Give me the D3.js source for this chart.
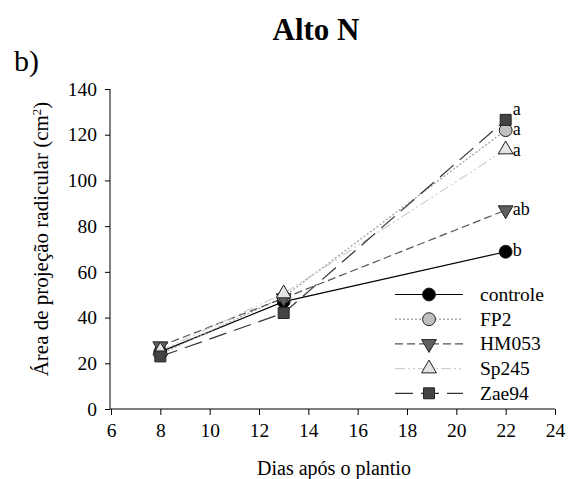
<!DOCTYPE html>
<html><head><meta charset="utf-8">
<script src="https://cdn.jsdelivr.net/npm/d3@7"></script>
<style>body{margin:0;background:#fff}svg{display:block}svg text{font-family:"Liberation Serif","Times New Roman",serif !important;fill:#000}</style>
</head><body><svg id="c" width="575" height="479"></svg>
<script>
const days = [8, 13, 22];
const seriesNames = ["controle", "FP2", "HM053", "Sp245", "Zae94"];
const controle = [25, 47, 68.8];
const FP2 = [24, 49, 122];
const HM053 = [27.5, 48.5, 87];
const Sp245 = [25.5, 50.5, 113.5];
const Zae94 = [23, 42, 126.5];
const letters = ["b", "a", "ab", "a", "a"];
const xTicks = [6, 8, 10, 12, 14, 16, 18, 20, 22, 24];
const yTicks = [0, 20, 40, 60, 80, 100, 120, 140];

const values = [controle, FP2, HM053, Sp245, Zae94];
const styles = [
  {stroke:"#000", dash:null, sym:d3.symbolCircle, fill:"#000", size:130, rot:0},
  {stroke:"#9a9a9a", dash:"2,2", sym:d3.symbolCircle, fill:"#c0c0c0", size:130, rot:0},
  {stroke:"#555", dash:"8,4", sym:d3.symbolTriangle, fill:"#606060", size:95, rot:180},
  {stroke:"#cfcfcf", dash:"10,3,2,3,2,3", sym:d3.symbolTriangle, fill:"#e4e4e4", size:95, rot:0},
  {stroke:"#333", dash:"18,8", sym:d3.symbolSquare, fill:"#444", size:120, rot:0}
];
const SERIF = '"Liberation Serif","Times New Roman",serif';

const svg = d3.select("#c");
const x = d3.scaleLinear().domain([6, 24]).range([111, 555]);
const y = d3.scaleLinear().domain([0, 140]).range([409, 89]);

const fixAxis = g => {
  g.attr("font-family", null).attr("font-size", null);
  g.selectAll("text").style("font-size","19.5px").style("font-family", SERIF);
  g.selectAll("line").attr("stroke","#000");
};
svg.append("g").attr("transform","translate(0,409)")
  .call(d3.axisBottom(x).tickValues(xTicks).tickSize(6).tickPadding(8).tickFormat(d3.format("d")))
  .call(fixAxis)
  .call(g=>g.select(".domain").attr("stroke","#000").attr("d","M110,0H555"));
svg.append("g").attr("transform","translate(110,0)")
  .call(d3.axisLeft(y).tickValues(yTicks).tickSize(5).tickPadding(8))
  .call(fixAxis)
  .call(g=>g.select(".domain").attr("stroke","#000").attr("d","M0,89V409"));

const line = d3.line().x((d,i)=>x(days[i])).y(d=>y(d));
values.forEach((v,k)=>{
  const s = styles[k];
  svg.append("path").attr("d", line(v)).attr("fill","none").attr("stroke", s.stroke)
    .attr("stroke-width",1.2).attr("stroke-dasharray", s.dash);
});
const drawSym = (cx, cy, s) => svg.append("path")
  .attr("d", d3.symbol().type(s.sym).size(s.size)())
  .attr("transform", `translate(${cx},${cy}) rotate(${s.rot})`)
  .attr("fill", s.fill).attr("stroke","#222").attr("stroke-width",1);
values.forEach((v,k)=>{ v.forEach((d,i)=>drawSym(x(days[i]), y(d), styles[k])); });

const T = (xx, yy, str, size) => svg.append("text").attr("x", xx).attr("y", yy)
  .style("font-family", SERIF).style("font-size", size + "px").text(str);

// significance letters
const letterDy = [4, 5, 5, 6, -5];
values.forEach((v,k)=>{ T(x(22)+7, y(v[2]) + letterDy[k], letters[k], 18); });

// legend
const lx0 = 395, lx1 = 463, lm = 429, ly0 = 294.5, ldy = 24.7;
seriesNames.forEach((n,k)=>{
  const s = styles[k], yy = ly0 + k*ldy;
  svg.append("line").attr("x1",lx0).attr("x2",lx1).attr("y1",yy).attr("y2",yy)
    .attr("stroke",s.stroke).attr("stroke-width",1.2).attr("stroke-dasharray",s.dash);
  drawSym(lm, yy, s);
  T(480, yy + 6.5, n, 19.5);
});

T(316, 40, "Alto N", 31).attr("text-anchor","middle").style("font-weight","bold");
T(14, 71, "b)", 30);
T(334, 475, "Dias após o plantio", 20).attr("text-anchor","middle");
const yl = svg.append("text").attr("transform","translate(48,239) rotate(-90)").attr("text-anchor","middle")
  .style("font-family", SERIF).style("font-size","21px");
yl.append("tspan").text("Área de projeção radicular (cm");
yl.append("tspan").attr("dy",-7).style("font-size","13px").text("2");
yl.append("tspan").attr("dy",7).text(")");
</script></body></html>
